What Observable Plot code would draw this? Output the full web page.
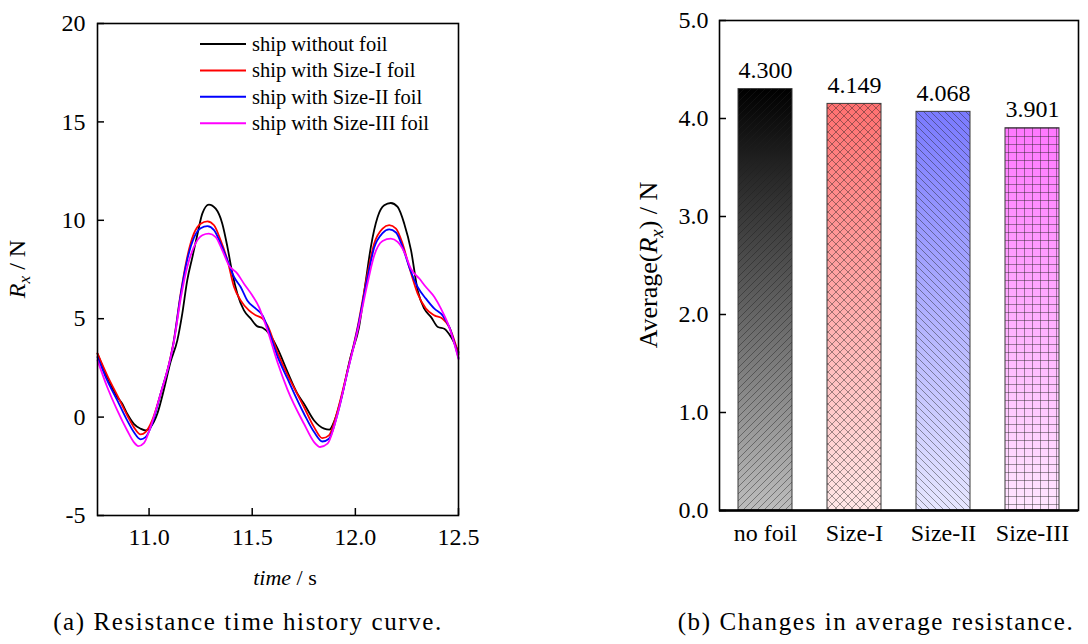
<!DOCTYPE html>
<html>
<head>
<meta charset="utf-8">
<script src="https://cdn.jsdelivr.net/npm/d3@7"></script>
<script src="https://cdn.jsdelivr.net/npm/@observablehq/plot@0.6"></script>
<style>
  html, body { margin: 0; padding: 0; background: #fff; }
  #page { position: relative; width: 1088px; height: 644px; overflow: hidden;
          font-family: "Liberation Serif", "Times New Roman", serif; color: #000; }
  .panel { position: absolute; top: 0; }
  .caption { position: absolute; top: 609px; font-size: 25px; letter-spacing: 1.6px; white-space: nowrap;
             transform: translateX(-50%); line-height: 1; }
</style>
</head>
<body>
<div id="page">
  <div id="left" class="panel" style="left:0px"></div>
  <div id="right" class="panel" style="left:560px"></div>
  <div class="caption" style="left:248px">(a) Resistance time history curve.</div>
  <div class="caption" style="left:876px">(b) Changes in average resistance.</div>
</div>
<script>
// ---- (a) resistance time history: [time (s), Rx (N)] ----
const seriesNames = ["ship without foil", "ship with Size-I foil", "ship with Size-II foil", "ship with Size-III foil"];
const seriesColors = ["#000000", "#ff0000", "#0000ff", "#ff00ff"];

const rxNoFoil = [
  [10.75, 3.22], [10.797, 2.03], [10.846, 1.02], [10.87, 0.68], [10.894, 0.17], [10.926, -0.34],
  [10.959, -0.59], [10.983, -0.68], [11.007, -0.51], [11.04, 0.17], [11.072, 1.40], [11.104, 2.80],
  [11.137, 3.90], [11.161, 5.26], [11.185, 6.95], [11.21, 8.13], [11.235, 9.32], [11.258, 10.34],
  [11.29, 10.80], [11.323, 10.59], [11.355, 9.83], [11.38, 8.64], [11.404, 7.29], [11.428, 6.27],
  [11.46, 5.42], [11.493, 5.00], [11.525, 4.61], [11.55, 4.54], [11.582, 4.24], [11.622, 3.50],
  [11.671, 2.30], [11.719, 1.19], [11.751, 0.68], [11.80, -0.17], [11.849, -0.59], [11.874, -0.64],
  [11.898, -0.20], [11.93, 0.90], [11.978, 3.10], [12.018, 4.58], [12.051, 6.95], [12.075, 8.64],
  [12.108, 10.17], [12.14, 10.76], [12.172, 10.88], [12.205, 10.68], [12.237, 9.83], [12.27, 8.47],
  [12.302, 6.44], [12.334, 5.51], [12.367, 5.08], [12.40, 4.58], [12.431, 4.49], [12.464, 4.07],
  [12.50, 3.30]
];
const rxSizeI = [
  [10.75, 3.24], [10.797, 2.12], [10.846, 1.10], [10.894, 0.09], [10.926, -0.51], [10.959, -0.88],
  [10.983, -0.76], [11.015, -0.17], [11.056, 1.19], [11.104, 3.05], [11.12, 3.90], [11.153, 6.27],
  [11.185, 8.13], [11.217, 9.32], [11.25, 9.83], [11.283, 9.95], [11.315, 9.75], [11.347, 8.98],
  [11.38, 7.97], [11.412, 6.61], [11.444, 5.93], [11.484, 5.42], [11.517, 5.17], [11.55, 5.00],
  [11.574, 4.66], [11.622, 3.30], [11.671, 2.15], [11.71, 1.35], [11.751, 0.51], [11.80, -0.51],
  [11.84, -1.07], [11.872, -0.93], [11.914, 0.34], [11.962, 2.37], [12.011, 4.58], [12.059, 7.29],
  [12.091, 8.81], [12.132, 9.58], [12.164, 9.75], [12.197, 9.58], [12.229, 8.81], [12.261, 7.63],
  [12.302, 6.27], [12.342, 5.51], [12.383, 5.17], [12.423, 5.00], [12.455, 4.58], [12.50, 3.20]
];
const rxSizeII = [
  [10.75, 3.05], [10.797, 1.87], [10.846, 0.85], [10.894, -0.17], [10.926, -0.76], [10.959, -1.13],
  [10.983, -1.02], [11.015, -0.34], [11.056, 1.19], [11.104, 3.00], [11.12, 3.85], [11.153, 6.20],
  [11.185, 8.00], [11.217, 9.10], [11.25, 9.60], [11.283, 9.70], [11.315, 9.50], [11.347, 8.81],
  [11.38, 7.97], [11.412, 7.12], [11.444, 6.61], [11.476, 5.93], [11.517, 5.51], [11.55, 5.17],
  [11.574, 4.58], [11.622, 3.10], [11.671, 1.95], [11.751, 0.17], [11.80, -0.76], [11.84, -1.24],
  [11.872, -1.10], [11.914, 0.17], [11.962, 2.30], [12.011, 4.50], [12.059, 7.10], [12.091, 8.60],
  [12.132, 9.35], [12.164, 9.54], [12.197, 9.38], [12.229, 8.64], [12.261, 7.63], [12.302, 6.61],
  [12.342, 6.02], [12.383, 5.51], [12.423, 5.17], [12.455, 4.58], [12.50, 3.00]
];
const rxSizeIII = [
  [10.75, 2.88], [10.797, 1.53], [10.846, 0.34], [10.894, -0.68], [10.926, -1.27], [10.948, -1.47],
  [10.975, -1.32], [11.007, -0.51], [11.056, 1.19], [11.104, 3.00], [11.12, 3.80], [11.153, 6.00],
  [11.185, 7.63], [11.217, 8.64], [11.258, 9.24], [11.29, 9.32], [11.323, 9.15], [11.355, 8.47],
  [11.387, 7.71], [11.428, 7.29], [11.46, 6.78], [11.50, 6.19], [11.533, 5.59], [11.557, 4.92],
  [11.574, 4.41], [11.622, 2.80], [11.671, 1.40], [11.751, -0.34], [11.80, -1.27], [11.829, -1.52],
  [11.865, -1.35], [11.914, 0.17], [11.962, 2.30], [12.011, 4.40], [12.059, 6.80], [12.091, 8.20],
  [12.132, 8.95], [12.172, 9.07], [12.205, 8.90], [12.237, 8.39], [12.269, 7.54], [12.31, 7.04],
  [12.342, 6.61], [12.383, 6.10], [12.415, 5.51], [12.455, 4.58], [12.50, 2.95]
];
const timeTicks = [11.0, 11.5, 12.0, 12.5];
const rxTicks = [-5, 0, 5, 10, 15, 20];

// ---- (b) average resistance per configuration ----
const barCategories = ["no foil", "Size-I", "Size-II", "Size-III"];
const barValues = [4.300, 4.149, 4.068, 3.901];
const barTicks = [0, 1, 2, 3, 4, 5];
const barTopColors = ["#000000", "#ff7070", "#7a7aff", "#ff78ff"];
const barBottomColors = ["#bdbdbd", "#ffe6e6", "#e6e6ff", "#ffe6ff"];
const barHatches = ["forward", "cross", "backward", "grid"];

const FONT = "'Liberation Serif', 'Times New Roman', serif";
const plotStyle = `font-family: ${FONT}; font-size: 24px; color: #000; background: transparent; overflow: visible;`;

// rotated axis title made of roman / italic / subscript pieces
function axisTitle(parts, cx, fontSize) {
  return (index, scales, values, dims) => {
    const cy = (dims.marginTop + dims.height - dims.marginBottom) / 2;
    const g = d3.create("svg:g");
    const t = g.append("text")
      .attr("transform", `translate(${cx},${cy}) rotate(-90)`)
      .attr("text-anchor", "middle")
      .attr("font-family", FONT)
      .attr("font-size", fontSize)
      .attr("fill", "#000");
    let shifted = false;
    for (const p of parts) {
      const s = t.append("tspan").text(p.t);
      if (p.italic) s.attr("font-style", "italic");
      if (p.sub) { s.attr("font-size", fontSize * 0.72).attr("dy", "0.3em"); shifted = true; }
      else if (shifted) { s.attr("dy", `${-0.3 * 0.72}em`); shifted = false; }
    }
    return g.node();
  };
}

// ---------------- left panel ----------------
const rows = [rxNoFoil, rxSizeI, rxSizeII, rxSizeIII].flatMap((s, i) =>
  s.map(([t, v]) => ({t, v, series: seriesNames[i]})));

function legendMark(index, scales, values, dims) {
  const g = d3.create("svg:g").attr("font-family", FONT).attr("font-size", 20.5)
    .attr("text-anchor", "start");
  seriesNames.forEach((name, i) => {
    const y = 44 + i * 26.4;
    g.append("line").attr("x1", 200).attr("x2", 246).attr("y1", y).attr("y2", y)
      .attr("stroke", seriesColors[i]).attr("stroke-width", 2);
    g.append("text").attr("x", 252).attr("y", y).attr("dy", "0.34em")
      .attr("text-anchor", "start").attr("fill", "#000").text(name);
  });
  return g.node();
}

function timeTitle(index, scales, values, dims) {
  const g = d3.create("svg:g");
  const t = g.append("text").attr("x", 285).attr("y", 585).attr("text-anchor", "middle")
    .attr("font-family", FONT).attr("font-size", 22).attr("fill", "#000");
  t.append("tspan").attr("font-style", "italic").text("time");
  t.append("tspan").text(" / s");
  return g.node();
}

const left = Plot.plot({
  width: 480, height: 600,
  marginLeft: 97, marginRight: 22, marginTop: 23, marginBottom: 85,
  style: plotStyle,
  x: {domain: [10.75, 12.5], label: null},
  y: {domain: [-5, 20], label: null},
  color: {domain: seriesNames, range: seriesColors},
  marks: [
    Plot.line(rows, {x: "t", y: "v", stroke: "series", strokeWidth: 1.8, curve: "monotone-x"}),
    Plot.axisX(timeTicks, {tickSize: -7, tickPadding: 19, tickFormat: d3.format(".1f"), strokeWidth: 1.5, fontFamily: FONT, fontSize: 24}),
    Plot.axisY(rxTicks, {tickSize: -7, tickPadding: 19, tickFormat: d => String(d), strokeWidth: 1.5, fontFamily: FONT, fontSize: 24}),
    Plot.frame({stroke: "#000", strokeWidth: 1.6}),
    legendMark,
    axisTitle([{t: "R", italic: true}, {t: "x", italic: true, sub: true}, {t: " / N"}], 25, 24),
    timeTitle
  ]
});
document.getElementById("left").append(left);

// ---------------- right panel ----------------
const bars = barCategories.map((c, i) => ({cat: c, value: barValues[i], i}));

function barDefs() {
  const defs = d3.create("svg:defs");
  bars.forEach(({i}) => {
    const lg = defs.append("linearGradient").attr("id", `bar-grad-${i}`)
      .attr("x1", 0).attr("y1", 0).attr("x2", 0).attr("y2", 1);
    lg.append("stop").attr("offset", "0%").attr("stop-color", barTopColors[i]);
    lg.append("stop").attr("offset", "100%").attr("stop-color", barBottomColors[i]);
    const kind = barHatches[i];
    const size = kind === "grid" ? 8 : kind === "cross" ? 8 : 7;
    const pat = defs.append("pattern").attr("id", `bar-hatch-${i}`)
      .attr("patternUnits", "userSpaceOnUse").attr("width", size).attr("height", size);
    const fwd = `M${-1},1 l2,-2 M0,${size} l${size},${-size} M${size - 1},${size + 1} l2,-2`;
    const bwd = `M${-1},${size - 1} l2,2 M0,0 l${size},${size} M${size - 1},-1 l2,2`;
    const grid = `M0,0.5 H${size} M0.5,0 V${size}`;
    const d = kind === "forward" ? fwd : kind === "backward" ? bwd : kind === "cross" ? fwd + " " + bwd : grid;
    pat.append("path").attr("d", d).attr("fill", "none")
      .attr("stroke", "rgba(30,30,30,0.55)").attr("stroke-width", 0.8);
  });
  return defs.node();
}

const right = Plot.plot({
  width: 528, height: 560,
  marginLeft: 159, marginRight: 10, marginTop: 20, marginBottom: 50,
  style: plotStyle,
  x: {domain: barCategories, paddingInner: 0.39, paddingOuter: 0.195, label: null},
  y: {domain: [0, 5], label: null},
  color: {type: "identity"},
  marks: [
    barDefs,
    Plot.barY(bars, {x: "cat", y: "value", fill: d => `url(#bar-grad-${d.i})`}),
    Plot.barY(bars, {x: "cat", y: "value", fill: d => `url(#bar-hatch-${d.i})`, stroke: "#3a3a3a", strokeWidth: 1}),
    Plot.text(bars, {x: "cat", y: "value", text: d => d3.format(".3f")(d.value), lineAnchor: "bottom", dy: -11, fontSize: 24, fontFamily: FONT}),
    Plot.axisX({tickSize: 0, tickPadding: 13, fontFamily: FONT, fontSize: 24}),
    Plot.axisY(barTicks, {tickSize: -7, tickPadding: 18, tickFormat: d3.format(".1f"), strokeWidth: 1.5, fontFamily: FONT, fontSize: 24}),
    Plot.frame({stroke: "#000", strokeWidth: 1.6}),
    Plot.ruleY([0], {stroke: "#000", strokeWidth: 2.4}),
    axisTitle([{t: "Average("}, {t: "R", italic: true}, {t: "x", italic: true, sub: true}, {t: ") / N"}], 97, 26)
  ]
});
document.getElementById("right").append(right);
</script>
</body>
</html>
